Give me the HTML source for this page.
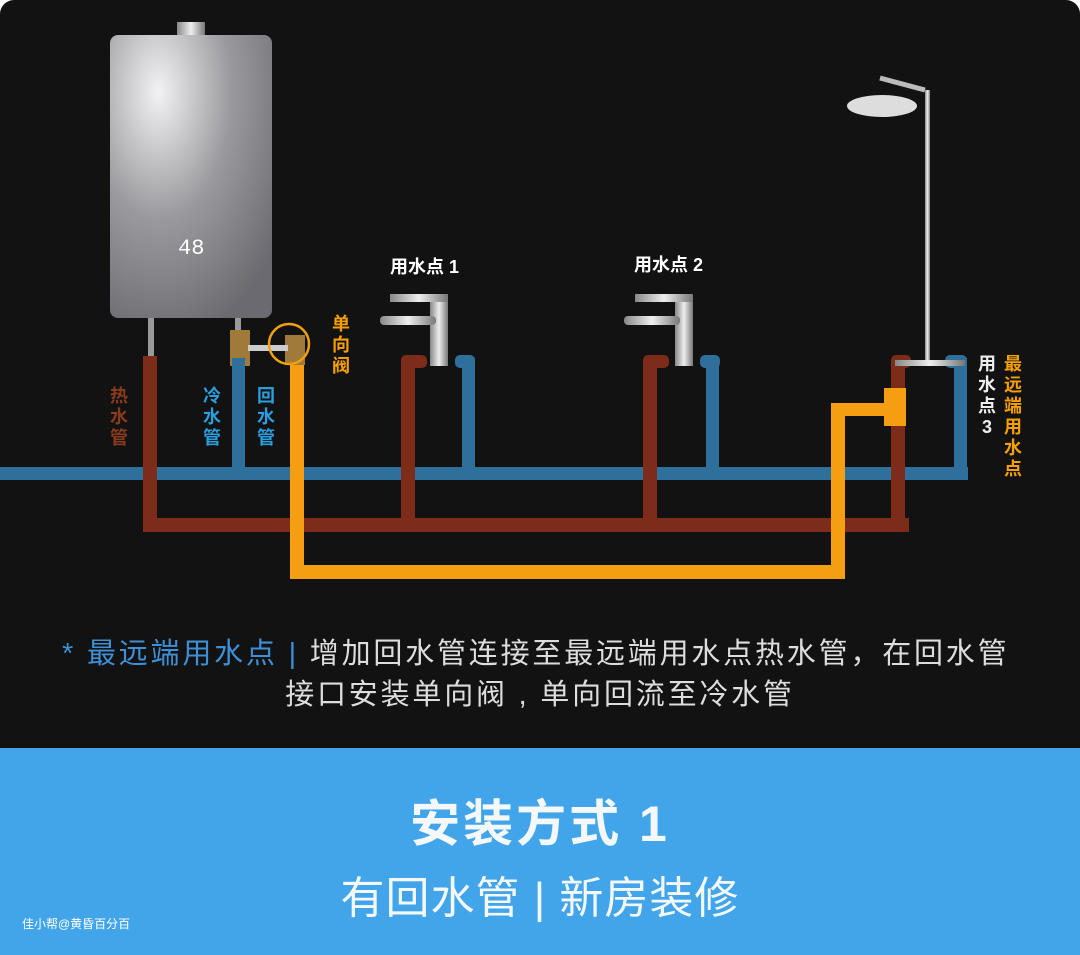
<!DOCTYPE html>
<html><head><meta charset="utf-8"><style>
html,body{margin:0;padding:0;background:#fff;}
.wrap{position:relative;width:1080px;height:955px;overflow:hidden;font-family:"Liberation Sans","Noto Sans CJK SC",sans-serif;}
svg{position:absolute;left:0;top:0;}
.t{position:absolute;white-space:nowrap;}
.v{position:absolute;width:20px;font-weight:bold;font-size:18px;line-height:21px;text-align:center;}
</style></head><body><div class="wrap">
<svg width="1080" height="955" viewBox="0 0 1080 955">
<defs>
<radialGradient id="hg" cx="0.3" cy="0.2" r="0.9">
<stop offset="0" stop-color="#f2f2f4"/><stop offset="0.5" stop-color="#9a9a9e"/><stop offset="1" stop-color="#6a6a70"/></radialGradient>
<linearGradient id="ch" x1="0" y1="0" x2="1" y2="0"><stop offset="0" stop-color="#888"/><stop offset="0.5" stop-color="#eee"/><stop offset="1" stop-color="#777"/></linearGradient>
</defs>
<rect x="0" y="0" width="1080" height="955" rx="14" fill="#121212"/>
<rect x="0" y="748" width="1080" height="207" fill="#42a5ea"/>
<rect x="177" y="22" width="28" height="14" fill="url(#ch)"/>
<rect x="110" y="35" width="162" height="283" rx="8" fill="url(#hg)"/>
<text x="178" y="254" font-family="Liberation Mono" font-size="22" fill="#fff">48</text>
<rect x="148" y="318" width="6" height="40" fill="#999"/>
<rect x="235" y="318" width="6" height="20" fill="#999"/>
<rect x="230" y="330" width="20" height="36" fill="#a07a3a"/>
<rect x="285" y="335" width="20" height="30" fill="#a07a3a"/>
<rect x="248" y="345" width="40" height="6" fill="#ccc"/>
<circle cx="289" cy="344" r="20" fill="none" stroke="#f0a010" stroke-width="2.5"/>
<g fill="#2f6f9c">
<rect x="0" y="467" width="968" height="13"/>
<rect x="232" y="358" width="13" height="115"/>
<rect x="462" y="358" width="13" height="115"/>
<rect x="706" y="358" width="13" height="115"/>
<rect x="954" y="358" width="13" height="120"/>
<rect x="455" y="355" width="20" height="13" rx="5"/>
<rect x="700" y="355" width="20" height="13" rx="5"/>
<rect x="945" y="355" width="22" height="13" rx="5"/>
</g>
<g fill="#7c2c18">
<rect x="143" y="356" width="14" height="176"/>
<rect x="143" y="518" width="766" height="14"/>
<rect x="401" y="360" width="14" height="165"/>
<rect x="643" y="360" width="14" height="165"/>
<rect x="891" y="360" width="14" height="165"/>
<rect x="401" y="355" width="26" height="13" rx="5"/>
<rect x="643" y="355" width="26" height="13" rx="5"/>
<rect x="891" y="355" width="20" height="13" rx="5"/>
</g>
<g fill="#f59e12">
<rect x="290" y="365" width="14" height="214"/>
<rect x="290" y="565" width="555" height="14"/>
<rect x="831" y="403" width="14" height="176"/>
<rect x="831" y="403" width="70" height="13"/>
<rect x="884" y="388" width="22" height="38"/>
</g>
<g fill="url(#ch)">
<rect x="430" y="296" width="18" height="70"/>
<rect x="390" y="294" width="58" height="8"/>
<rect x="380" y="316" width="56" height="9" rx="4"/>
<rect x="675" y="296" width="18" height="70"/>
<rect x="635" y="294" width="58" height="8"/>
<rect x="624" y="316" width="56" height="9" rx="4"/>
<rect x="925" y="90" width="5" height="272"/>
<rect x="895" y="360" width="70" height="6"/>
</g>
<path d="M880 78 L925 90" stroke="#bbb" stroke-width="5" fill="none"/>
<ellipse cx="882" cy="106" rx="35" ry="11" fill="#ddd"/>
</svg>
<div class="v" style="left:109px;top:386px;color:#8b3a1e">热水管</div>
<div class="v" style="left:202px;top:386px;color:#2a9fe0">冷水管</div>
<div class="v" style="left:256px;top:386px;color:#2a9fe0">回水管</div>
<div class="v" style="left:331px;top:314px;color:#f5a000">单向阀</div>
<div class="v" style="left:977px;top:354px;color:#eee">用水点3</div>
<div class="v" style="left:1003px;top:354px;color:#f5a000">最远端用水点</div>
<div class="t" style="left:390px;top:253px;color:#fff;font-weight:bold;font-size:18px">用水点 1</div>
<div class="t" style="left:634px;top:251px;color:#fff;font-weight:bold;font-size:18px">用水点 2</div>
<div class="t" style="left:62px;top:630px;font-size:29px;letter-spacing:2.8px;color:#ddd"><span style="color:#3d8fd6">* 最远端用水点 |</span> 增加回水管连接至最远端用水点热水管，在回水管</div>
<div class="t" style="left:0;width:1080px;text-align:center;top:671px;font-size:29px;letter-spacing:2.8px;color:#ddd">接口安装单向阀 , 单向回流至冷水管</div>
<div class="t" style="left:0;width:1080px;text-align:center;top:784px;font-size:50px;letter-spacing:3px;font-weight:bold;color:#f4f8fb">安装方式 1</div>
<div class="t" style="left:0;width:1080px;text-align:center;top:862px;font-size:44px;letter-spacing:1px;color:#f4f8fb">有回水管 | 新房装修</div>
<div class="t" style="left:22px;top:915px;font-size:12px;color:#fff">佳小帮@黄昏百分百</div>
</div></body></html>
